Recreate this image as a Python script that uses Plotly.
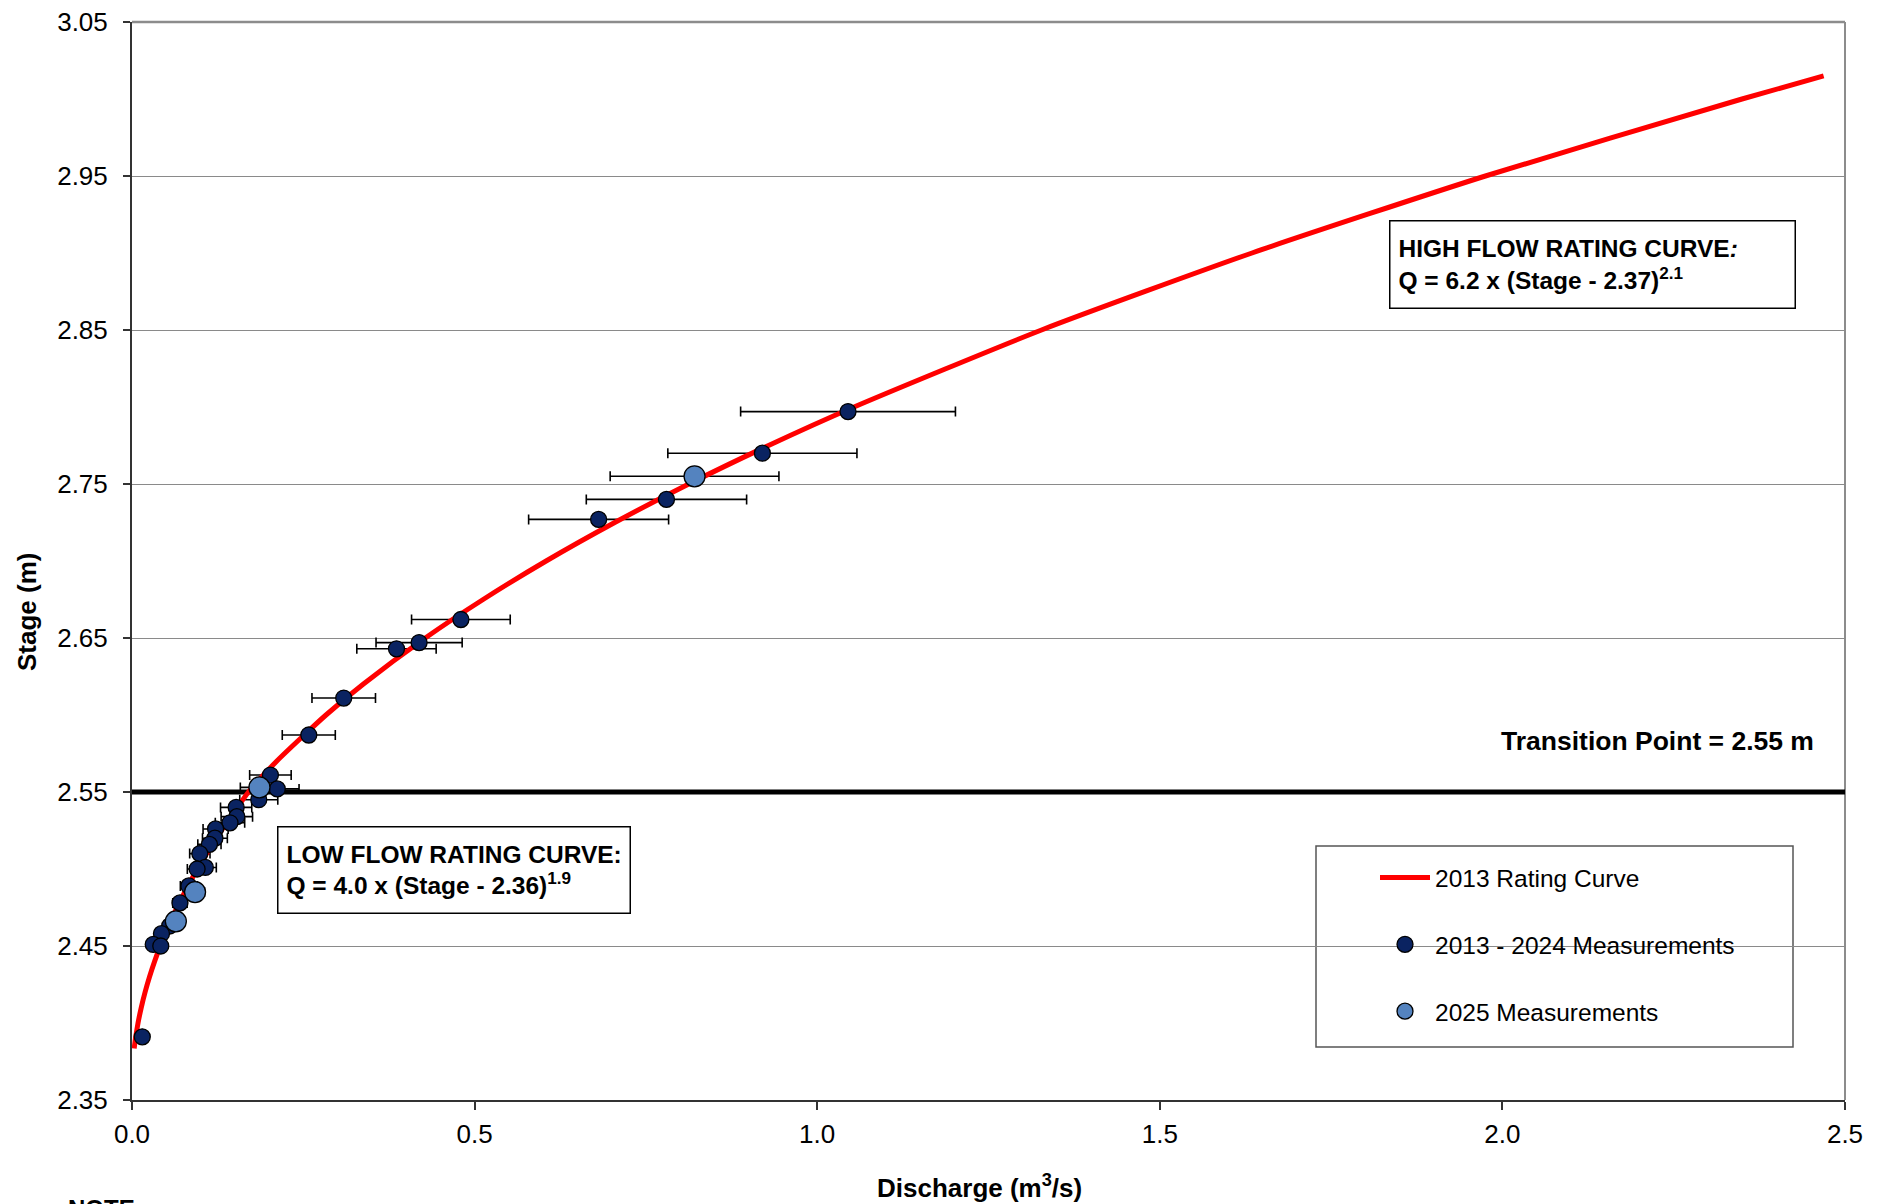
import plotly.graph_objects as go

# ---------------- data ----------------
# 2013 rating curve (stage in m, discharge in m3/s)
curve_stage = [2.3835, 2.385, 2.39, 2.395, 2.40, 2.41, 2.42, 2.43, 2.44, 2.45, 2.46,
               2.47, 2.48, 2.49, 2.50, 2.51, 2.52, 2.53, 2.54, 2.55, 2.57, 2.60,
               2.62, 2.65, 2.675, 2.70, 2.725, 2.75, 2.775, 2.80, 2.85, 2.90,
               2.95, 3.00, 3.015]
curve_q = [0.0032, 0.0036, 0.0051, 0.0069, 0.0088, 0.0135, 0.0191, 0.0256, 0.0330,
           0.0412, 0.0504, 0.0603, 0.0712, 0.0829, 0.0954, 0.1088, 0.1230, 0.1380,
           0.1539, 0.1700, 0.2111, 0.2831, 0.3373, 0.4280, 0.5124, 0.6044, 0.7045,
           0.8126, 0.9290, 1.0538, 1.3274, 1.6346, 1.9752, 2.3497, 2.4688]

# 2013 - 2024 measurements
hist_q = [1.045, 0.920, 0.780, 0.681, 0.480, 0.419, 0.386, 0.309, 0.258, 0.202,
          0.212, 0.185, 0.152, 0.153, 0.143, 0.122, 0.121, 0.113, 0.099, 0.107,
          0.095, 0.083, 0.070, 0.055, 0.043, 0.031, 0.042, 0.015]
hist_stage = [2.797, 2.770, 2.740, 2.727, 2.662, 2.647, 2.643, 2.611, 2.587, 2.561,
              2.552, 2.545, 2.540, 2.534, 2.530, 2.526, 2.520, 2.516, 2.510, 2.501,
              2.500, 2.489, 2.478, 2.463, 2.458, 2.451, 2.450, 2.391]

# 2025 measurements
new_q = [0.821, 0.186, 0.092, 0.064]
new_stage = [2.755, 2.553, 2.485, 2.466]

error_pct = 15          # horizontal error bars, +/- percent of discharge
transition_stage = 2.55
x_range = [0.0, 2.5]
y_range = [2.35, 3.05]

x_ticks = [0.0, 0.5, 1.0, 1.5, 2.0, 2.5]
y_ticks = [2.35, 2.45, 2.55, 2.65, 2.75, 2.85, 2.95, 3.05]

FONT = "Liberation Sans, Arial, sans-serif"
NAVY = "#0A2361"
LIGHT = "#5483BF"

fig = go.Figure()

# transition line (above gridlines, under everything else)
fig.add_trace(go.Scatter(
    x=x_range, y=[transition_stage, transition_stage], mode="lines",
    showlegend=False, hoverinfo="skip",
    line=dict(color="black", width=5),
))

# error bars (drawn under the rating curve)
for q, s in ((hist_q, hist_stage), (new_q, new_stage)):
    fig.add_trace(go.Scatter(
        x=q, y=s, mode="markers", showlegend=False, hoverinfo="skip",
        marker=dict(size=1, color="rgba(0,0,0,0)"),
        error_x=dict(type="percent", value=error_pct, color="black",
                     thickness=1.6, width=5),
    ))

fig.add_trace(go.Scatter(
    x=curve_q, y=curve_stage, mode="lines", name="2013 Rating Curve",
    line=dict(color="#FF0000", width=5, shape="spline", smoothing=0.6),
    legendgroup="a",
))
fig.add_trace(go.Scatter(
    x=hist_q, y=hist_stage, mode="markers", name="2013 - 2024 Measurements",
    marker=dict(size=16, color=NAVY, line=dict(color="black", width=1.3)),
    legendgroup="b",
))
fig.add_trace(go.Scatter(
    x=new_q, y=new_stage, mode="markers", name="2025 Measurements",
    marker=dict(size=21, color=LIGHT, line=dict(color="black", width=1.3)),
    legendgroup="c",
))

L, R, T, B = 132, 38, 22, 104
W, H = 1883, 1204

def px_x(p):
    return (p - L) / (W - L - R)

def px_y(p):
    return (H - B - p) / (H - B - T)

shapes = [
    # top and right frame
    dict(type="line", xref="paper", yref="paper", x0=0, x1=1, y0=1, y1=1,
         line=dict(color="#8c8c8c", width=2.5), layer="between"),
    dict(type="line", xref="paper", yref="paper", x0=1, x1=1, y0=0, y1=1,
         line=dict(color="#8c8c8c", width=2), layer="between"),
    # legend box
    dict(type="rect", xref="paper", yref="paper",
         x0=px_x(1316), x1=px_x(1793), y0=px_y(1047), y1=px_y(846),
         line=dict(color="#555555", width=1.5), fillcolor="white",
         layer="between"),
]

annotations = [
    dict(xref="paper", yref="paper", x=px_x(1389), y=px_y(220),
         xanchor="left", yanchor="top", showarrow=False, align="left",
         valign="middle", width=388, height=70, borderpad=8,
         bordercolor="black", borderwidth=1.5, bgcolor="white",
         text="<b>HIGH FLOW RATING CURVE<i>:</i><br>Q = 6.2 x (Stage - 2.37)<sup>2.1</sup></b>",
         font=dict(size=24.5, color="black", family=FONT)),
    dict(xref="paper", yref="paper", x=px_x(277), y=px_y(826),
         xanchor="left", yanchor="top", showarrow=False, align="left",
         valign="middle", width=335, height=69, borderpad=8,
         bordercolor="black", borderwidth=1.5, bgcolor="white",
         text="<b>LOW FLOW RATING CURVE:<br>Q = 4.0 x (Stage - 2.36)<sup>1.9</sup></b>",
         font=dict(size=24.5, color="black", family=FONT)),
    dict(xref="paper", yref="paper", x=px_x(1816), y=px_y(741),
         xanchor="right", yanchor="middle", showarrow=False,
         text="<b>Transition Point = 2.55 m</b>",
         font=dict(size=26.5, color="black", family=FONT)),
    dict(xref="paper", yref="paper", x=px_x(66), y=px_y(1193),
         xanchor="left", yanchor="top", showarrow=False,
         text="<b>NOTE:</b>",
         font=dict(size=24, color="black", family=FONT)),
    # axis titles
    dict(xref="paper", yref="paper", x=px_x(979), y=px_y(1186),
         xanchor="center", yanchor="middle", showarrow=False,
         text="<b>Discharge (m<sup>3</sup>/s)</b>",
         font=dict(size=26, color="black", family=FONT)),
    dict(xref="paper", yref="paper", x=px_x(27), y=px_y(612),
         xanchor="center", yanchor="middle", showarrow=False, textangle=-90,
         text="<b>Stage (m)</b>",
         font=dict(size=26, color="black", family=FONT)),
]

fig.update_layout(
    width=W, height=H,
    margin=dict(l=L, r=R, t=T, b=B, autoexpand=False),
    paper_bgcolor="white", plot_bgcolor="white",
    font=dict(family=FONT, size=24, color="black"),
    showlegend=True,
    legend=dict(x=px_x(1375), y=px_y(855), xanchor="left", yanchor="top",
                bgcolor="rgba(0,0,0,0)", borderwidth=0,
                font=dict(size=24.5, family=FONT, color="black"),
                traceorder="grouped", tracegroupgap=32, itemwidth=50),
    shapes=shapes,
    annotations=annotations,
)

fig.update_xaxes(
    range=x_range, tickvals=x_ticks, tickformat=".1f",
    showgrid=False, zeroline=False,
    showline=True, linecolor="#333333", linewidth=2,
    ticks="outside", ticklen=8, tickwidth=1.5, tickcolor="#333333",
    tickfont=dict(size=26, family=FONT, color="black"), ticklabelstandoff=2,
)
fig.update_yaxes(
    range=y_range, tickvals=y_ticks, tickformat=".2f",
    showgrid=True, gridcolor="#8a8a8a", gridwidth=1.2, zeroline=False,
    showline=True, linecolor="#333333", linewidth=2,
    ticks="outside", ticklen=7, tickwidth=1.5, tickcolor="#333333",
    tickfont=dict(size=26, family=FONT, color="black"), ticklabelstandoff=10,
)

fig.write_html("out.html")
